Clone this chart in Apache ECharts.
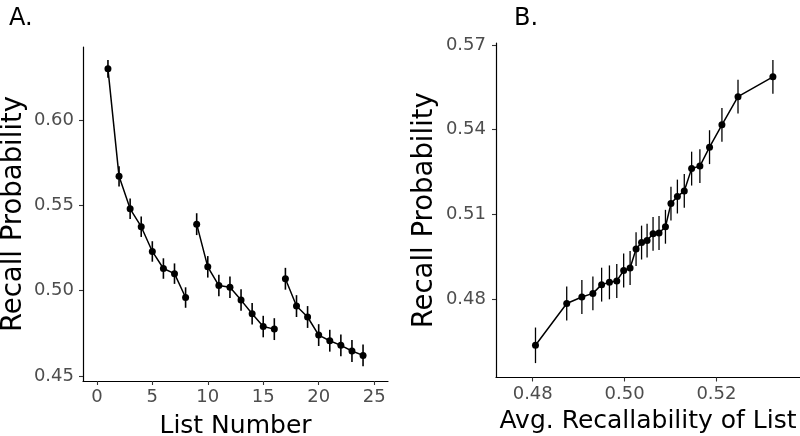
<!DOCTYPE html>
<html>
<head>
<meta charset="utf-8">
<script src="https://cdn.jsdelivr.net/npm/echarts@6/dist/echarts.min.js"></script>
<style>html,body{margin:0;padding:0;background:#fff;}#chart{width:800px;height:436px;}</style>
</head>
<body>
<div id="chart"></div>
<script>
// Panel A: recall probability by list number
const listNumber = [1,2,3,4,5,6,7,8,9,10,11,12,13,14,15,16,17,18,19,20,21,22,23,24];
const recallA = [0.630,0.567,0.548,0.5375,0.523,0.513,0.510,0.496,
                 0.539,0.514,0.503,0.502,0.4945,0.4865,0.479,0.4775,
                 0.507,0.491,0.4846,0.474,0.4707,0.468,0.4647,0.4621];
const seA = [0.0052,0.0059,0.006,0.006,0.006,0.006,0.006,0.006,
             0.0064,0.0063,0.0063,0.0063,0.0063,0.0063,0.0063,0.0064,
             0.0064,0.0064,0.0064,0.0064,0.0064,0.0064,0.0064,0.0064];
const blockSize = 8;

// Panel B: recall probability vs. average recallability of list
const avgRecall = [0.4806,0.4874,0.4907,0.4931,0.4950,0.4967,0.4983,0.4998,
                   0.5012,0.5025,0.5037,0.5049,0.5062,0.5075,0.5089,0.5101,
                   0.5115,0.5130,0.5146,0.5164,0.5185,0.5212,0.5247,0.5323];
const recallB = [0.4636,0.4784,0.4807,0.4820,0.4851,0.4859,0.4864,0.4901,
                 0.4910,0.4977,0.5000,0.5007,0.5031,0.5034,0.5056,0.5138,
                 0.5163,0.5183,0.5262,0.5271,0.5338,0.5417,0.5517,0.5587];
const seB = [0.0063,0.006,0.006,0.006,0.006,0.006,0.006,0.006,
             0.006,0.006,0.006,0.006,0.006,0.006,0.006,0.006,
             0.006,0.006,0.006,0.006,0.006,0.006,0.006,0.006];

// tick labels
const ticksAx = [0,5,10,15,20,25];
const ticksAy = [0.45,0.50,0.55,0.60];
const ticksBx = [0.48,0.50,0.52];
const ticksBy = [0.48,0.51,0.54,0.57];

const FONT = 'DejaVu Sans';
const chart = echarts.init(document.getElementById('chart'), null, {renderer:'canvas'});

function errBars(xs, ys, se, axisIdx, lw) {
  return {
    type: 'custom',
    xAxisIndex: axisIdx, yAxisIndex: axisIdx,
    data: xs.map((x,i)=>[x, ys[i]-se[i], ys[i]+se[i]]),
    renderItem: function(params, api) {
      const lo = api.coord([api.value(0), api.value(1)]);
      const hi = api.coord([api.value(0), api.value(2)]);
      return {type:'line', shape:{x1:lo[0],y1:lo[1],x2:hi[0],y2:hi[1]},
              style:{stroke:'#000', lineWidth:lw}};
    },
    z: 3, silent: true
  };
}
function lineSeries(xs, ys, axisIdx) {
  return {
    type:'line', xAxisIndex:axisIdx, yAxisIndex:axisIdx,
    data: xs.map((x,i)=>[x, ys[i]]),
    symbol:'circle', symbolSize:7, showSymbol:true,
    itemStyle:{color:'#000'}, lineStyle:{color:'#000', width:1.5},
    animation:false, z:4
  };
}

const series = [];
for (let b = 0; b < listNumber.length; b += blockSize) {
  series.push(lineSeries(listNumber.slice(b,b+blockSize), recallA.slice(b,b+blockSize), 0));
}
series.push(errBars(listNumber, recallA, seA, 0, 1.6));
series.push(lineSeries(avgRecall, recallB, 1));
series.push(errBars(avgRecall, recallB, seB, 1, 1.3));

const axisCommon = {
  axisLine:{show:true, onZero:false, lineStyle:{color:'#000', width:1.2}},
  axisTick:{show:true, length:4, lineStyle:{color:'#333', width:1.1}},
  splitLine:{show:false},
  nameLocation:'middle'
};
function lbl(fmt, vals, margin) {
  return {fontFamily:FONT, fontSize:18, color:'#4d4d4d', margin:margin,
          customValues: vals, formatter: fmt, showMinLabel:true, showMaxLabel:true};
}
const xName = {fontFamily:FONT, fontSize:25, color:'#000'};
const yName = {fontFamily:FONT, fontSize:27.5, color:'#000'};

const option = {
  animation:false,
  backgroundColor:'#fff',
  title:[
    {text:'A.', left:4, top:2, textStyle:{fontFamily:FONT, fontSize:24, fontWeight:'normal', color:'#000'}},
    {text:'B.', left:509, top:2, textStyle:{fontFamily:FONT, fontSize:24, fontWeight:'normal', color:'#000'}}
  ],
  grid:[
    {left:83, top:47, width:305, height:334, outerBoundsMode:'none', containLabel:false},
    {left:496, top:43, width:304, height:334.5, outerBoundsMode:'none', containLabel:false}
  ],
  xAxis:[
    Object.assign({}, axisCommon, {type:'value', gridIndex:0, min:-1.25, max:26.25,
      name:'List Number', nameGap:33, nameTextStyle:xName,
      axisTick:Object.assign({}, axisCommon.axisTick, {customValues:ticksAx}),
      axisLabel:lbl(v=>String(v), ticksAx, 7)}),
    Object.assign({}, axisCommon, {type:'value', gridIndex:1, min:0.472, max:0.5382,
      name:'Avg. Recallability of List', nameGap:31, nameTextStyle:xName,
      axisTick:Object.assign({}, axisCommon.axisTick, {customValues:ticksBx}),
      axisLabel:lbl(v=>v.toFixed(2), ticksBx, 8)})
  ],
  yAxis:[
    Object.assign({}, axisCommon, {type:'value', gridIndex:0, min:0.4471, max:0.6428,
      name:'Recall Probability', nameGap:55, nameTextStyle:yName,
      axisTick:Object.assign({}, axisCommon.axisTick, {customValues:ticksAy}),
      axisLabel:lbl(v=>v.toFixed(2), ticksAy, 9)}),
    Object.assign({}, axisCommon, {type:'value', gridIndex:1, min:0.4522, max:0.5707,
      name:'Recall Probability', nameGap:57, nameTextStyle:yName,
      axisTick:Object.assign({}, axisCommon.axisTick, {customValues:ticksBy}),
      axisLabel:lbl(v=>v.toFixed(2), ticksBy, 10)})
  ],
  series: series
};
chart.setOption(option);
</script>
</body>
</html>
